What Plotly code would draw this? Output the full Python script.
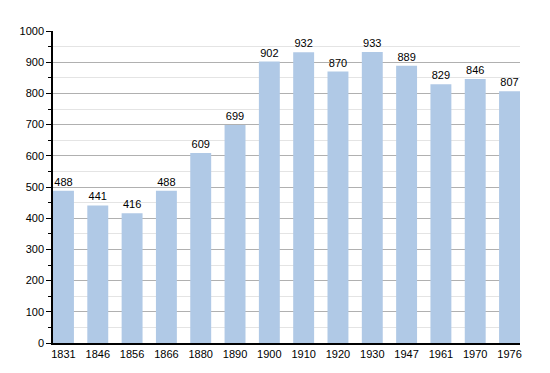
import plotly.graph_objects as go

years = ["1831", "1846", "1856", "1866", "1880", "1890", "1900", "1910", "1920", "1930", "1947", "1961", "1970", "1976"]
population = [488, 441, 416, 488, 609, 699, 902, 932, 870, 933, 889, 829, 846, 807]

fig = go.Figure(go.Bar(
    x=years, y=population,
    text=[str(v) for v in population],
    textposition="outside",
    cliponaxis=False,
    textfont=dict(size=11, color="black", family="Liberation Sans, Arial"),
    marker=dict(color="#b0c9e6", line=dict(width=0)),
))

fig.update_layout(
    width=550, height=373,
    margin=dict(l=42, r=38, t=23, b=38),
    plot_bgcolor="white", paper_bgcolor="white",
    bargap=0.39,
    showlegend=False,
    font=dict(family="Liberation Sans, Arial", size=11, color="black"),
    xaxis=dict(type="category", range=[-0.305, 13.305], showline=True, linecolor="black",
               linewidth=1.5, ticks="", showgrid=False, tickfont=dict(size=11)),
    yaxis=dict(range=[0, 1000], dtick=100, showline=True, linecolor="black", linewidth=1.5,
               ticks="outside", ticklen=5, tickcolor="black", gridcolor="#b0b0b0",
               gridwidth=1, zeroline=False, tickfont=dict(size=11),
               minor=dict(dtick=50, showgrid=True, gridcolor="#e4e4e4", ticks="outside",
                          ticklen=3, tickcolor="black")),
)

fig.write_html("out.html")
